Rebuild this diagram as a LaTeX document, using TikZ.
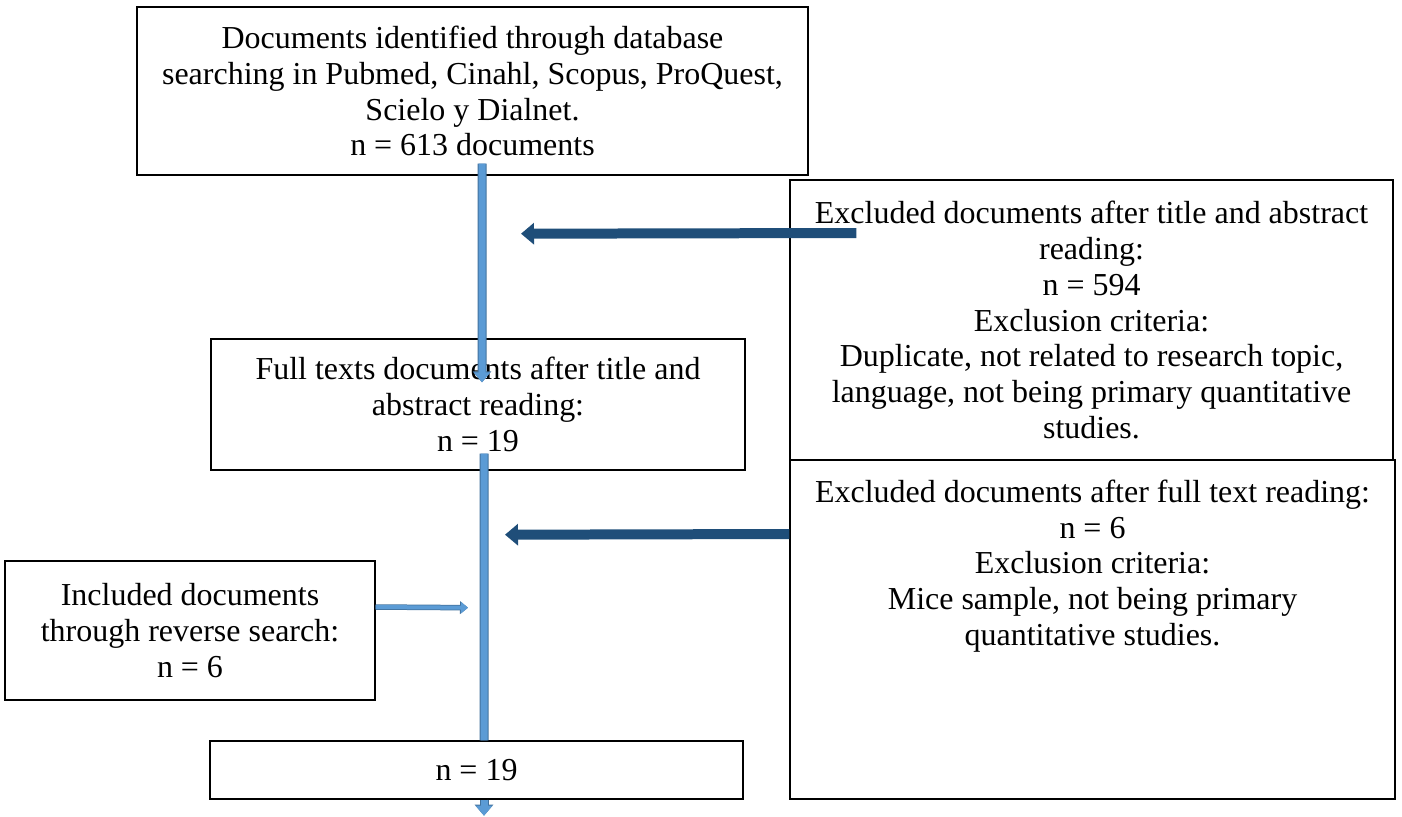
\documentclass[tikz,border=0pt]{standalone}
\usepackage{fontspec}
\setmainfont{Liberation Serif}
\usetikzlibrary{positioning,arrows.meta}

\definecolor{flowblue}{RGB}{91,155,213}
\definecolor{flowedge}{RGB}{65,113,156}
\definecolor{rejectblue}{RGB}{31,78,121}

\begin{document}
\begin{tikzpicture}[x=0.02cm, y=-0.02cm,
    font=\fontsize{18.2pt}{20.4pt}\selectfont,
    box/.style={rectangle, draw, line width=0.8pt, fill=white, inner sep=0pt, align=center},
    toptext/.style={anchor=north, align=center, inner sep=0pt, yshift=#1},
    flow/.style={draw=flowblue, line width=0.14cm, -{Triangle[width=0.32cm, length=0.2cm]},
        preaction={draw=flowedge, line width=0.18cm, -{Triangle[width=0.36cm, length=0.22cm]}}},
    flowplain/.style={draw=flowblue, line width=0.14cm,
        preaction={draw=flowedge, line width=0.18cm}},
    reject/.style={draw=rejectblue, line width=0.2cm, -{Triangle[width=0.42cm, length=0.26cm]}},
    addin/.style={draw=flowblue, line width=0.08cm, -{Triangle[width=0.22cm, length=0.14cm]},
        preaction={draw=flowedge, line width=0.11cm, -{Triangle[width=0.25cm, length=0.16cm]}}}
]
\useasboundingbox (0,0) rectangle (1402,816);

% Identification
\node[box, minimum width=13.42cm, minimum height=3.36cm] (search) at (472.5,91)
    {Documents identified through database\\
    searching in Pubmed, Cinahl, Scopus, ProQuest,\\ Scielo y Dialnet.\\ n = 613 documents};

% Screening
\node[box, minimum width=12.06cm, minimum height=5.6cm] (excltitle) at (1091.5,320)
    {Excluded documents after title and abstract\\ reading:\\ n = 594\\
    Exclusion criteria:\\ Duplicate, not related to research topic,\\
    language, not being primary quantitative\\ studies.};
\node[box, minimum width=10.68cm, minimum height=2.62cm] (fulltext) at (478,404.5)
    {Full texts documents after title and\\ abstract reading:\\ n = 19};

% Eligibility
\node[box, minimum width=12.1cm, minimum height=6.78cm,
    label={[toptext=-0.4cm]north:Excluded documents after full text reading:\\ n = 6\\
    Exclusion criteria:\\ Mice sample, not being primary\\ quantitative studies.}]
    (exclfull) at (1092.5,629.5) {};
\node[box, minimum width=7.4cm, minimum height=2.78cm] (reverse) at (190,630.5)
    {Included documents\\ through reverse search:\\ n = 6};

% Included
\node[box, minimum width=10.66cm, minimum height=1.16cm] (final) at (476.5,770) {n = 19};

% Flow arrows
\draw[flow] ([shift={(9.5,-12)}]search.south) -- ([shift={(4,44)}]fulltext.north);
\draw[flowplain] ([shift={(6,-17)}]fulltext.south) -- ([shift={(7.5,0)}]final.north);
\draw[flow] ([shift={(7.5,0)}]final.south) -- ([shift={(7.5,16)}]final.south);

% Exclusions and additions
\draw[reject] ([shift={(67,-87)}]excltitle.west) -- ([shift={(48.5,58)}]search.south);
\draw[reject] ([shift={(0,-95.5)}]exclfull.west) -- ([shift={(27,64)}]fulltext.south);
\draw[addin] ([shift={(0,-23.5)}]reverse.east) -- ([shift={(-10,137)}]fulltext.south);

\end{tikzpicture}
\end{document}
